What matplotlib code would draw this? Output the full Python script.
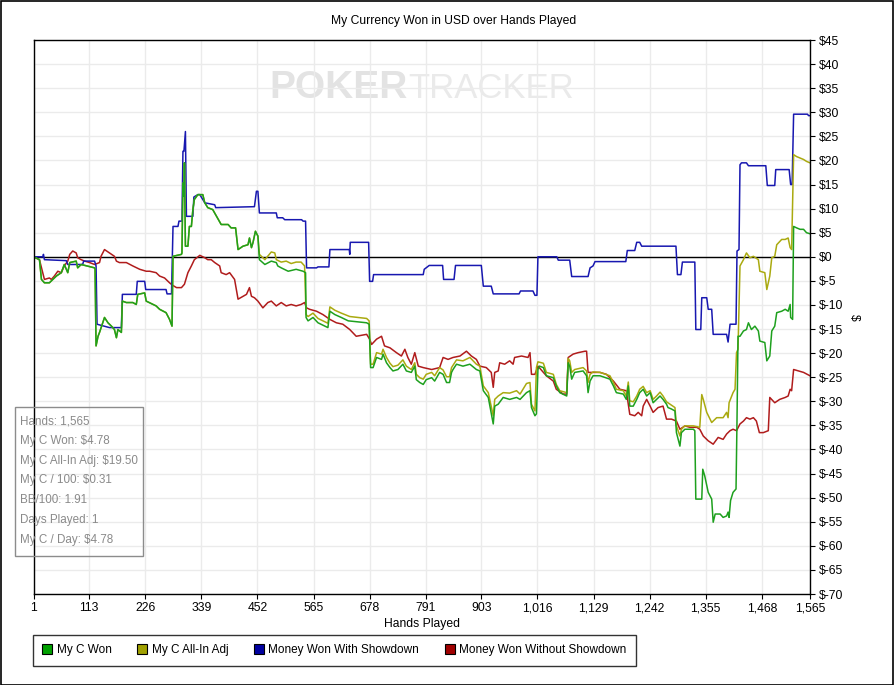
import matplotlib
matplotlib.use("Agg")
import matplotlib.pyplot as plt
from matplotlib.lines import Line2D
from matplotlib.patches import Rectangle
import numpy as np

# ---- data (hand number, cumulative USD) ----
won_hands = [1, 13, 17, 23, 33, 47, 57, 63, 70, 74, 87, 90, 97, 124, 125, 127,
             131, 134, 144, 151, 158, 164, 168, 171, 178, 180, 188, 201, 208,
             211, 225, 228, 248, 255, 268, 275, 280, 282, 299, 300, 302, 304,
             305, 307, 312, 315, 319, 322, 325, 332, 342, 346, 352, 362, 379,
             393, 399, 408, 413, 423, 433, 436, 440, 443, 448, 453,
             456, 467, 480, 490, 493, 500, 514, 530, 544, 549, 550, 554, 564,
             574, 594, 598, 608, 621, 635, 672, 677, 680, 685, 692, 702, 705,
             712, 719, 725, 735, 745, 752, 762, 769, 772, 779, 786, 792, 803,
             809, 819, 826, 833, 839, 843, 846, 853, 866, 880, 893, 900, 907,
             917, 927, 930, 937, 947, 960, 974, 981, 994, 1001, 1004, 1011,
             1014, 1017, 1020, 1028, 1034, 1048, 1054, 1061, 1075, 1078, 1081,
             1085, 1091, 1108, 1115, 1118, 1122, 1128, 1142, 1162, 1169, 1175,
             1189, 1195, 1199, 1202, 1209, 1216, 1222, 1229, 1236, 1243, 1249,
             1256, 1263, 1269, 1276, 1279, 1286, 1293, 1296, 1303, 1306, 1313,
             1330, 1333, 1335, 1347, 1349, 1353, 1360, 1367, 1370, 1374, 1384,
             1390, 1397, 1400, 1402, 1405, 1410, 1416, 1418, 1420, 1424, 1431,
             1437, 1441, 1447, 1454, 1461, 1464, 1474, 1478, 1484, 1488, 1494,
             1498, 1508, 1515, 1521, 1525, 1526, 1530, 1532, 1538, 1545, 1552,
             1558, 1565]
won_usd = [0.0, -0.6, -4.7, -5.4, -5.4, -4.0, -3.3, -1.6, -3.3, -1.2, -0.9, -2.3,
           -1.6, -2.3, -2.5, -18.5, -16.5, -15.7, -12.6, -13.7, -14.4, -15.1,
           -16.8, -15.1, -15.7, -9.2, -9.5, -9.5, -9.9, -7.8, -7.5, -9.2, -10.2,
           -10.9, -11.6, -13.0, -14.4, 0.1, 0.5, 0.8, 15.3, 12.6, 19.5, 2.2, 2.2,
           6.3, 6.3, 9.8, 11.9, 12.9, 12.9, 11.2, 10.2, 9.8, 6.7, 6.7, 6.0, 6.0,
           1.5, 2.2, 2.5, 3.9, 1.9, 2.9, 5.3, 4.3,
           -0.6, -1.6, -0.9, -1.2, -1.9, -2.3, -3.0, -2.6, -3.0, -3.3, -12.6,
           -13.3, -12.6, -13.7, -14.7, -11.3, -12.0, -12.6, -13.3, -13.7, -14.0,
           -23.0, -23.0, -20.9, -21.3, -20.2, -22.0, -23.0, -23.7, -23.4, -22.3,
           -23.7, -24.0, -22.7, -25.5, -26.1, -26.5, -25.5, -25.1, -25.8, -24.0,
           -24.4, -26.1, -26.1, -24.0, -23.4, -22.3, -22.7, -22.3, -23.4, -23.7,
           -27.8, -29.2, -34.7, -31.0, -30.6, -29.2, -29.6, -29.2, -29.6, -28.2,
           -27.8, -31.3, -33.0, -32.6, -23.4, -22.7, -23.0, -24.7, -25.1, -26.8,
           -28.2, -28.9, -22.0, -22.7, -25.4, -24.0, -23.7, -24.7, -28.2, -25.8,
           -24.7, -24.7, -25.4, -26.8, -28.2, -28.5, -29.6, -26.8, -31.0, -31.0,
           -29.6, -28.2, -27.5, -28.9, -28.2, -30.3, -29.6, -28.9, -29.6, -30.6,
           -31.3, -31.6, -32.0, -36.5, -39.3, -36.5, -35.8, -35.8, -36.1, -50.3,
           -50.3, -44.1, -45.5, -48.9, -50.3, -55.1, -53.4, -53.4, -54.1, -53.8,
           -53.0, -54.1, -50.6, -48.9, -48.2, -33.7, -16.5, -16.5, -15.4, -15.1,
           -13.7, -15.1, -14.4, -15.4, -17.5, -17.8, -21.6, -20.6, -15.4, -14.4,
           -11.6, -11.3, -10.9, -11.3, -9.9, -12.6, -13.0, 6.3, 6.0, 5.7, 5.7,
           5.0, 4.78]

# all-in adjusted: identical to "won" up to hand 453, then runs a little above it
allin_hands = won_hands[:66] + [
    456, 467, 480, 487, 490, 500, 510, 520, 530, 540, 547, 550, 554, 564, 574,
    594, 598, 608, 621, 638, 672, 677, 680, 685, 692, 702, 705, 712, 719, 725,
    735, 745, 752, 762, 769, 772, 779, 786, 792, 803, 809, 819, 826, 833, 839,
    843, 853, 866, 880, 893, 900, 907, 917, 927, 930, 937, 947, 960, 974, 981,
    994, 1001, 1004, 1011, 1014, 1017, 1028, 1034, 1048, 1054, 1061, 1075,
    1078, 1081, 1085, 1091, 1108, 1115, 1118, 1122, 1128, 1142, 1162, 1169,
    1175, 1189, 1195, 1199, 1202, 1209, 1216, 1222, 1229, 1236, 1243, 1249,
    1256, 1263, 1269, 1276, 1286, 1293, 1296, 1303, 1306, 1313, 1330, 1343,
    1347, 1350, 1357, 1367, 1377, 1390, 1397, 1400, 1402, 1410, 1414, 1417,
    1420, 1424, 1431, 1437, 1444, 1451, 1461, 1464, 1474, 1478, 1484, 1488,
    1494, 1498, 1508, 1515, 1521, 1525, 1528, 1532, 1538, 1545, 1552, 1558,
    1565]
allin_usd = won_usd[:66] + [
    0.5, -0.6, 1.0, 0.8, -0.6, -1.1, -0.9, -1.4, -1.1, -1.1, -1.9, -12.0,
    -12.4, -11.7, -12.8, -13.8, -10.4, -11.1, -11.7, -12.4, -12.8, -13.3,
    -22.3, -22.3, -19.9, -20.2, -19.2, -20.9, -22.1, -22.8, -22.5, -21.4,
    -22.7, -23.4, -22.0, -24.4, -25.1, -25.4, -24.4, -24.0, -24.7, -23.0,
    -23.5, -24.9, -24.9, -23.0, -21.4, -21.6, -20.9, -22.3, -22.7, -26.8,
    -28.2, -33.0, -29.6, -28.9, -28.2, -28.3, -27.8, -28.5, -26.3, -26.1,
    -30.6, -32.0, -23.0, -21.8, -22.1, -24.0, -24.4, -26.5, -27.8, -28.2,
    -21.1, -21.6, -24.0, -23.4, -23.0, -23.7, -26.1, -24.4, -23.9, -24.0,
    -24.7, -26.1, -27.5, -27.8, -28.9, -26.0, -29.9, -30.1, -28.9, -27.5,
    -26.9, -28.2, -27.8, -29.6, -28.9, -28.1, -28.9, -30.1, -30.8, -31.3,
    -35.1, -37.2, -35.8, -35.1, -35.1, -35.4, -28.6, -29.6, -32.3, -34.4,
    -33.4, -33.4, -32.3, -33.4, -30.3, -28.2, -27.5, -19.9, -19.2, -1.9,
    -0.6, 0.8, -0.2, 0.1, -0.6, -3.0, -3.3, -6.8, -4.0, -0.2, 0.1, 2.5, 3.6,
    3.6, 3.9, 1.9, 1.5, 21.2, 20.8, 20.5, 20.2, 19.8, 19.5]

sd_hands = [1, 20, 21, 23, 67, 70, 100, 102, 124, 127, 129, 154, 178, 180, 208,
            210, 225, 227, 268, 270, 279, 282, 292, 294, 300, 302, 304, 307,
            309, 322, 324, 332, 336, 346, 366, 368, 446, 450, 453, 456, 490,
            492, 503, 507, 541, 544, 549, 551, 571, 574, 596, 598, 637, 638,
            639, 676, 678, 684, 686, 786, 788, 798, 825, 827, 848, 851, 903,
            907, 923, 927, 979, 982, 1007, 1011, 1015, 1017, 1055, 1058, 1081,
            1085, 1118, 1122, 1128, 1132, 1194, 1197, 1212, 1216, 1222, 1226,
            1295, 1298, 1305, 1308, 1333, 1335, 1345, 1347, 1357, 1360, 1367,
            1370, 1397, 1400, 1404, 1416, 1418, 1422, 1424, 1427, 1437, 1441,
            1476, 1479, 1494, 1496, 1523, 1526, 1529, 1532, 1560, 1562, 1565]
sd_usd = [0.0, 0.0, 0.5, -0.6, -0.8, -1.6, -1.6, -0.9, -0.9, -1.9, -14.0, -14.7,
          -14.7, -7.8, -7.8, -5.1, -5.1, -6.8, -6.8, -7.7, -7.7, 6.3, 6.3, 7.4,
          7.4, 21.9, 21.9, 26.0, 8.4, 8.4, 12.4, 12.9, 12.9, 11.2, 10.8, 10.2,
          10.4, 13.6, 13.6, 9.1, 9.1, 8.1, 8.1, 7.7, 7.7, 7.4, 7.4, -2.3, -2.3,
          -2.1, -2.1, 1.5, 1.5, 0.5, 3.0, 3.0, -5.1, -5.1, -3.7, -3.7, -2.6,
          -1.8, -1.8, -4.7, -4.7, -1.8, -1.8, -6.1, -6.1, -7.7, -7.7, -7.1,
          -7.1, -8.0, -8.0, 0.0, 0.0, -0.7, -0.7, -4.1, -4.1, -2.3, -1.9, -1.0,
          -1.0, 1.3, 1.3, 3.0, 3.0, 2.2, 2.2, -3.7, -3.7, -1.1, -1.1, -15.1,
          -15.1, -8.5, -8.5, -10.9, -10.9, -16.1, -16.1, -17.7, -14.0, -14.0,
          1.2, 1.5, 19.1, 19.5, 19.5, 18.9, 18.9, 14.8, 14.8, 18.1, 18.1, 15.0,
          15.0, 29.6, 29.6, 29.3, 29.3]

nosd_hands = [1, 13, 23, 33, 37, 43, 50, 57, 63, 70, 74, 80, 87, 90, 97, 104,
              114, 124, 134, 137, 144, 154, 164, 168, 174, 188, 201, 215, 228,
              235, 248, 255, 265, 275, 281, 289, 299, 305, 312, 319, 325, 336,
              346, 352, 359, 366, 376, 379, 389, 396, 406, 413, 423, 430, 436,
              440, 446, 453, 463, 473, 480, 490, 500, 510, 520, 530, 540, 547,
              551, 557, 571, 584, 598, 611, 624, 638, 651, 672, 678, 682, 692,
              702, 708, 719, 732, 742, 749, 755, 762, 769, 776, 786, 803, 819,
              826, 836, 846, 860, 873, 883, 893, 900, 913, 923, 927, 930, 937,
              940, 950, 960, 967, 970, 984, 997, 1001, 1004, 1011, 1017, 1028,
              1034, 1048, 1054, 1068, 1075, 1078, 1088, 1098, 1112, 1115, 1118,
              1128, 1142, 1155, 1169, 1182, 1195, 1202, 1212, 1219, 1226, 1229,
              1236, 1243, 1249, 1259, 1269, 1276, 1286, 1296, 1303, 1313, 1323,
              1337, 1343, 1350, 1360, 1370, 1380, 1390, 1397, 1404, 1410, 1417,
              1424, 1431, 1437, 1444, 1451, 1457, 1463, 1471, 1481, 1484, 1494,
              1504, 1515, 1521, 1525, 1528, 1532, 1542, 1552, 1565]
nosd_usd = [0.0, -0.6, -4.7, -4.4, -4.7, -4.0, -3.0, -3.3, -1.9, -0.9, 0.5, 1.2,
            0.8, -0.2, -0.6, -0.9, -1.2, -1.6, -1.2, 0.1, 1.5, 0.8, 0.1, -0.9,
            -1.2, -1.2, -1.9, -2.6, -3.0, -3.0, -3.3, -4.0, -4.4, -5.4, -5.9,
            -6.4, -6.4, -5.7, -3.3, -1.9, -0.6, 0.3, -0.2, -0.6, -0.6, -1.2,
            -1.9, -3.3, -3.7, -3.3, -4.7, -8.8, -8.2, -7.8, -6.4, -8.2, -8.5,
            -9.2, -10.6, -9.5, -9.2, -10.2, -9.5, -10.2, -9.9, -10.2, -9.9,
            -9.5, -10.6, -10.9, -11.3, -12.0, -13.0, -13.7, -14.0, -15.1, -16.5,
            -16.1, -17.1, -18.2, -17.1, -16.5, -18.5, -18.9, -19.9, -20.6,
            -19.2, -20.9, -22.3, -19.9, -22.7, -23.0, -23.4, -23.0, -20.9,
            -21.3, -20.9, -20.6, -19.6, -20.6, -21.3, -22.7, -23.0, -24.0,
            -27.1, -24.0, -23.7, -22.0, -22.3, -21.6, -22.3, -20.9, -20.6,
            -20.9, -19.9, -24.4, -24.4, -22.7, -24.0, -24.7, -25.8, -27.5,
            -28.5, -28.5, -20.9, -20.2, -19.9, -19.6, -19.6, -24.0, -24.0,
            -24.0, -24.4, -25.8, -27.5, -27.8, -32.7, -33.0, -32.3, -33.0,
            -31.0, -29.6, -31.0, -32.3, -31.3, -31.0, -33.7, -33.7, -34.1,
            -35.8, -35.1, -35.4, -35.4, -35.8, -37.2, -38.2, -38.9, -37.5,
            -37.9, -36.8, -36.1, -35.8, -36.1, -34.7, -34.1, -33.4, -33.7,
            -33.4, -34.1, -36.5, -36.5, -36.1, -29.2, -30.3, -29.6, -29.2,
            -28.9, -27.5, -27.8, -23.4, -23.7, -24.0, -24.7]

x_ticks = [1, 113, 226, 339, 452, 565, 678, 791, 903, 1016, 1129, 1242, 1355,
           1468, 1565]

series_labels = ["My C Won", "My C All-In Adj", "Money Won With Showdown",
                 "Money Won Without Showdown"]
line_colors = ["#1ea01e", "#aaaa10", "#1818b0", "#b01c1c"]
box_colors = ["#00a000", "#a0a000", "#0000a0", "#a00000"]

stats_lines = ["Hands: 1,565", "My C Won: $4.78", "My C All-In Adj: $19.50",
               "My C / 100: $0.31", "BB/100: 1.91", "Days Played: 1",
               "My C / Day: $4.78"]

for h, v in [(won_hands, won_usd), (allin_hands, allin_usd),
             (sd_hands, sd_usd), (nosd_hands, nosd_usd)]:
    assert len(h) == len(v), (len(h), len(v))

plt.rcParams['font.family'] = ['Liberation Sans', 'DejaVu Sans']
plt.rcParams['font.size'] = 8

W, H = 894, 685
fig = plt.figure(figsize=(W / 100, H / 100), dpi=100, facecolor='white')
ax = fig.add_axes([33.5 / W, 1 - 594 / H, 776.5 / W, 554 / H])

ax.set_xlim(1, 1565)
ax.set_ylim(-70, 45)
ax.set_xticks(x_ticks)
ax.set_xticklabels([f"{t:,}" for t in x_ticks])
y_ticks = np.arange(-70, 50, 5)
ax.set_yticks(y_ticks)
ax.set_yticklabels([f"${t}" for t in y_ticks])
ax.yaxis.tick_right()
ax.tick_params(direction='out', length=3.6, width=0.8, color='k',
               labelsize=8.7, pad=2.5)
ax.grid(color='#ebebeb', lw=1, zorder=0)
ax.set_axisbelow(True)
for s in ax.spines.values():
    s.set_color('k')
    s.set_linewidth(1)

ax.axhline(0, color='k', lw=1, zorder=1.5)

# watermark
wm_y = (594 - 98) / 554
ax.text(0.482, wm_y, "POKER", transform=ax.transAxes, ha='right',
        va='baseline', fontsize=28, fontweight='bold', color='#e3e3e3',
        zorder=0.5)
ax.text(0.482, wm_y, "TRACKER", transform=ax.transAxes, ha='left',
        va='baseline', fontsize=25, color='#eaeaea', zorder=0.5)

# draw red first so the green series sits on top
ax.plot(nosd_hands, nosd_usd, color=line_colors[3], lw=1.1, zorder=2)
ax.plot(sd_hands, sd_usd, color=line_colors[2], lw=1.1, zorder=2.1)
ax.plot(allin_hands, allin_usd, color=line_colors[1], lw=1.1, zorder=2.2)
ax.plot(won_hands, won_usd, color=line_colors[0], lw=1.1, zorder=2.3)

fig.text(453.5 / W, 1 - 21 / H, "My Currency Won in USD over Hands Played",
         fontsize=8.7, ha='center', va='center')
ax.set_xlabel("Hands Played", fontsize=8.7)
ax.xaxis.set_label_coords(0.5, -(618 - 594) / 554)
ax.set_ylabel("$", rotation=270, fontsize=8.7, va='center')
ax.yaxis.set_label_position('right')
ax.yaxis.set_label_coords((860 - 33.5) / 776.5, 0.5)

# stats box
fig.patches.append(Rectangle((15 / W, 1 - 556 / H), 128 / W, 149 / H,
                             transform=fig.transFigure, fill=False,
                             ec='#8c8c8c', lw=1))
for i, s in enumerate(stats_lines):
    fig.text(20 / W, 1 - (421 + 19.8 * i) / H, s, color='#8a8a8a',
             fontsize=8.4, va='center', ha='left')

# legend
handles = [Line2D([], [], ls='none', marker='s', markersize=7,
                  markerfacecolor=c, markeredgecolor='k', markeredgewidth=0.8)
           for c in box_colors]
leg = fig.legend(handles, series_labels, loc='upper left',
                 bbox_to_anchor=(33 / W, 1 - 635 / H), ncol=4, frameon=True,
                 fancybox=False, edgecolor='k', fontsize=8.5,
                 handlelength=0.8, handletextpad=0.4, columnspacing=2.2,
                 borderpad=0.8, borderaxespad=0)
leg.get_frame().set_linewidth(1)

# outer border
fig.patches.append(Rectangle((0.5 / W, 0.5 / H), 1 - 1.5 / W, 1 - 1.5 / H,
                             transform=fig.transFigure, fill=False,
                             ec='k', lw=1.2))

fig.savefig("out.png", dpi=100, facecolor='white')
